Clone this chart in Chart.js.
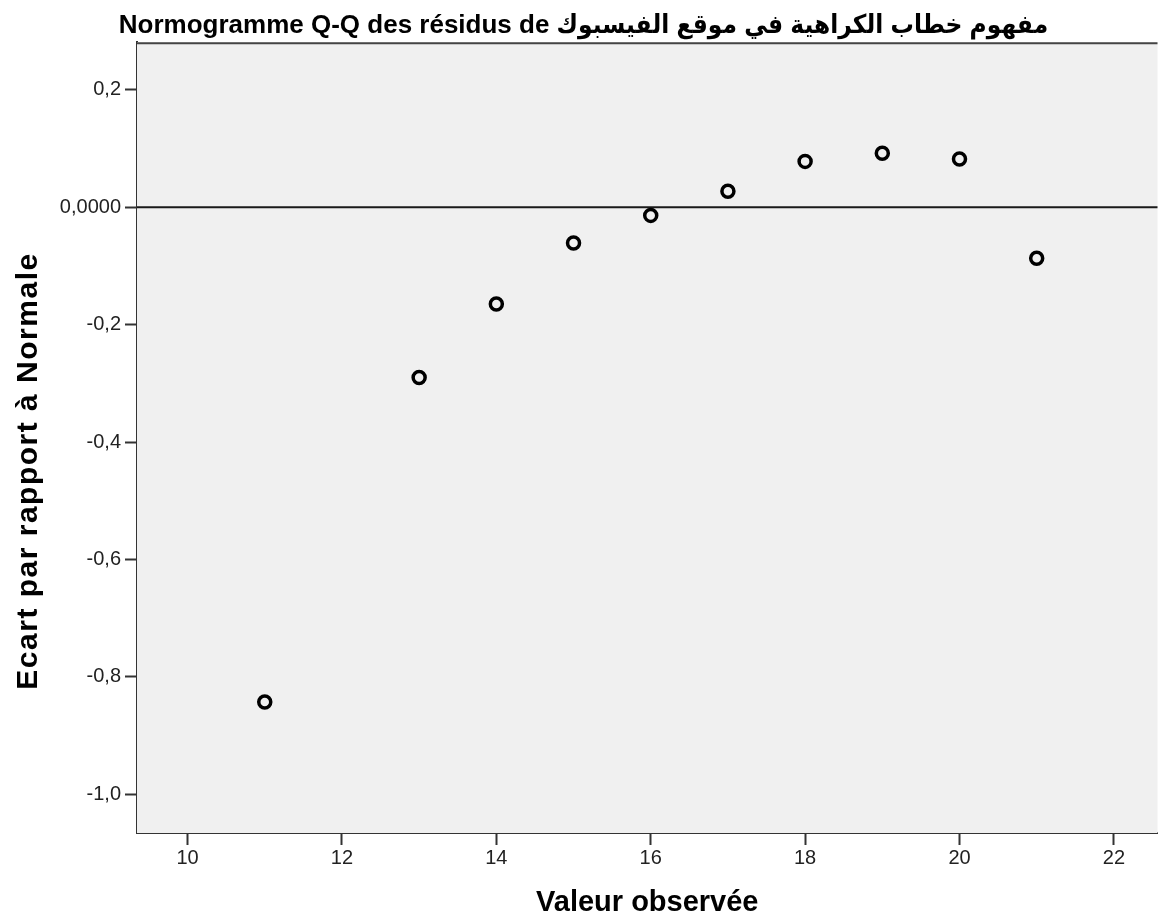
<!DOCTYPE html>
<html>
<head>
<meta charset="utf-8">
<title>Normogramme Q-Q</title>
<script src="https://cdn.jsdelivr.net/npm/chart.js@4/dist/chart.umd.min.js"></script>
<style>
  html, body { margin: 0; padding: 0; background: #fff; }
  #wrap { width: 1167px; height: 923px; }
</style>
</head>
<body>
<div id="wrap"><canvas id="qq-chart" width="1167" height="923"></canvas></div>
<script>
// observed values and their deviation from the normal line
const observed = [11, 13, 14, 15, 16, 17, 18, 19, 20, 21];
const deviation = [-0.843, -0.290, -0.165, -0.061, -0.014, 0.027, 0.078, 0.092, 0.082, -0.087];
const xTicks = [10, 12, 14, 16, 18, 20, 22];
const yTicks = [0.2, 0, -0.2, -0.4, -0.6, -0.8, -1.0];
const yTitle = "Ecart par rapport à Normale";

const FONT = "'Liberation Sans', Arial, 'DejaVu Sans', sans-serif";
const TITLE_FONT = "'Liberation Sans', Arial, 'DejaVu Sans Condensed', 'DejaVu Sans', sans-serif";

// grey plot background, top border and the zero reference line
const plotFrame = {
  id: "plotFrame",
  beforeDatasetsDraw(chart) {
    const { ctx, chartArea, scales } = chart;
    ctx.save();
    ctx.fillStyle = "#f0f0f0";
    ctx.fillRect(chartArea.left, chartArea.top, chartArea.right - chartArea.left, chartArea.bottom - chartArea.top);
    ctx.strokeStyle = "#444";
    ctx.lineWidth = 2;
    ctx.beginPath();
    ctx.moveTo(chartArea.left, chartArea.top + 1);
    ctx.lineTo(chartArea.right, chartArea.top + 1);
    ctx.stroke();
    const y0 = scales.y.getPixelForValue(0);
    ctx.strokeStyle = "#1a1a1a";
    ctx.lineWidth = 2;
    ctx.beginPath();
    ctx.moveTo(chartArea.left, y0);
    ctx.lineTo(chartArea.right, y0);
    ctx.stroke();
    ctx.restore();
  },
  // vertical axis title, a bit wider spaced than the default title
  afterDraw(chart) {
    const { ctx } = chart;
    ctx.save();
    ctx.translate(37, 471);
    ctx.rotate(-Math.PI / 2);
    ctx.font = "bold 30px " + FONT;
    ctx.letterSpacing = "1.5px";
    ctx.fillStyle = "#000";
    ctx.textAlign = "center";
    ctx.textBaseline = "alphabetic";
    ctx.fillText(yTitle, 0, 0);
    ctx.restore();
  },
};

const points = observed.map((x, i) => ({ x: x, y: deviation[i] }));

new Chart(document.getElementById("qq-chart").getContext("2d"), {
  type: "scatter",
  data: {
    datasets: [
      {
        data: points,
        pointRadius: 6,
        pointBorderWidth: 3.5,
        pointBorderColor: "#000",
        pointBackgroundColor: "rgba(0,0,0,0)",
      },
    ],
  },
  options: {
    responsive: false,
    animation: false,
    layout: { padding: 0 },
    plugins: {
      legend: { display: false },
      tooltip: { enabled: false },
      title: {
        display: true,
        text: "Normogramme Q-Q des résidus de مفهوم خطاب الكراهية في موقع الفيسبوك",
        color: "#000",
        font: { family: TITLE_FONT, size: 26, weight: "bold", lineHeight: 1.2 },
        padding: { top: 10, bottom: 1 },
      },
    },
    scales: {
      x: {
        type: "linear",
        min: 9.345,
        max: 22.565,
        afterBuildTicks(scale) {
          scale.ticks = xTicks.map((v) => ({ value: v }));
        },
        afterFit(scale) {
          scale.height = 90;
        },
        ticks: {
          color: "#222",
          padding: 1,
          font: { family: FONT, size: 20 },
          callback: (v) => String(v),
        },
        grid: {
          drawOnChartArea: false,
          drawTicks: true,
          tickLength: 12,
          tickWidth: 2,
          tickColor: "#333",
        },
        border: { display: true, color: "#333", width: 2 },
        title: {
          display: true,
          text: "Valeur observée",
          color: "#000",
          font: { family: FONT, size: 29, weight: "bold", lineHeight: 1.2 },
          padding: { top: 0, bottom: 3 },
        },
      },
      y: {
        type: "linear",
        min: -1.066,
        max: 0.281,
        afterBuildTicks(scale) {
          scale.ticks = yTicks.map((v) => ({ value: v }));
        },
        afterFit(scale) {
          scale.width = 137;
        },
        ticks: {
          color: "#222",
          padding: 4,
          font: { family: FONT, size: 20 },
          callback: (v) => (Math.abs(v) < 1e-9 ? "0,0000" : v.toFixed(1).replace(".", ",")),
        },
        grid: {
          drawOnChartArea: false,
          drawTicks: true,
          tickLength: 12,
          tickWidth: 2,
          tickColor: "#333",
        },
        border: { display: true, color: "#333", width: 2 },
        title: { display: false },
      },
    },
  },
  plugins: [plotFrame],
});
</script>
</body>
</html>
